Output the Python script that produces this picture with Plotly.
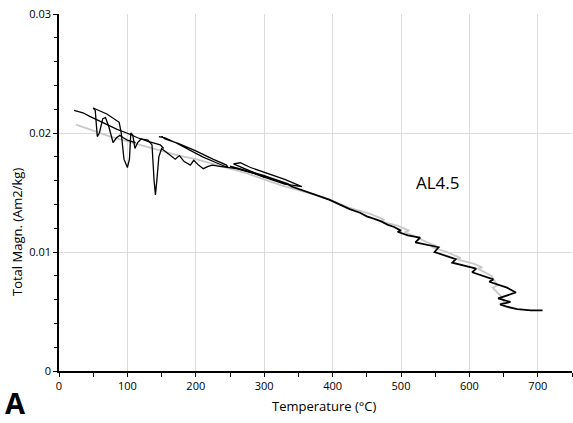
import plotly.graph_objects as go

# ---- data ----
gray_x = [25, 50, 75, 100, 125, 150, 175, 200, 225, 250, 275, 300, 325, 350, 375, 400, 425, 455,
          476, 469, 496, 512, 505, 535, 552, 545, 567, 587, 581, 607, 619, 612, 632, 641, 634, 646, 651, 644, 658]
gray_y = [0.0207, 0.0202, 0.0197, 0.0193, 0.0189, 0.0185, 0.0181, 0.0178, 0.0174, 0.0170, 0.0166, 0.0161,
          0.0156, 0.0152, 0.0148, 0.0143, 0.0137, 0.0132, 0.0127, 0.0126, 0.0122, 0.0118, 0.0117, 0.0109,
          0.0105, 0.0104, 0.0100, 0.0095, 0.0094, 0.0090, 0.0087, 0.0086, 0.0080, 0.0072, 0.0070, 0.0063,
          0.0058, 0.0056, 0.0053]

run1_x = [22, 35, 45, 56, 70, 85, 99, 115, 130, 148, 153, 150]
run1_y = [0.0219, 0.0217, 0.0214, 0.0211, 0.0207, 0.0203, 0.0200, 0.0196, 0.0193, 0.0190, 0.0187, 0.0189]

run2_x = [50, 53, 56, 59, 64, 68, 73, 79, 84, 89, 94, 100, 106, 112]
run2_y = [0.0221, 0.0219, 0.0197, 0.0200, 0.0212, 0.0213, 0.0205, 0.0192, 0.0196, 0.0198, 0.0196,
          0.0194, 0.0193, 0.0192]

run3_x = [50, 70, 88, 91, 95, 100, 103, 105, 108, 111, 115, 120, 130, 136, 139, 141, 143, 146, 150,
          157, 163, 170, 176, 183, 192, 197, 204, 211, 218, 224, 235, 246, 260, 280, 300]
run3_y = [0.0221, 0.0216, 0.0209, 0.0200, 0.0178, 0.0171, 0.0178, 0.0200, 0.0198, 0.0187, 0.0192,
          0.0195, 0.0194, 0.0190, 0.0160, 0.0148, 0.0160, 0.0180, 0.0187, 0.0184, 0.0181, 0.0178,
          0.0181, 0.0176, 0.0173, 0.0177, 0.0173, 0.0170, 0.0172, 0.0173, 0.0172, 0.0171, 0.0170,
          0.0167, 0.0163]

run4_x = [146, 155, 170, 190, 210, 230, 247, 245, 225, 200, 175, 155, 150]
run4_y = [0.0197, 0.0196, 0.0192, 0.0186, 0.0180, 0.0175, 0.0171, 0.0173, 0.0178, 0.0185, 0.0191,
          0.0195, 0.0197]

run5_x = [250, 270, 290, 300, 320, 335, 340, 350, 365, 380, 395, 410, 425, 440, 450, 460, 470, 480,
          490, 500, 495, 510, 528, 521, 540, 555, 549, 565, 580, 575, 595, 610, 604, 620, 635, 629,
          645, 655, 668, 642, 660, 645, 655, 670, 690, 707]
run5_y = [0.0172, 0.0169, 0.0166, 0.0164, 0.0160, 0.0157, 0.0155, 0.0153, 0.0150, 0.0147, 0.0144,
          0.0140, 0.0136, 0.0133, 0.0130, 0.0128, 0.0126, 0.0123, 0.0121, 0.0118, 0.0117, 0.0114,
          0.0112, 0.0108, 0.0106, 0.0104, 0.0100, 0.0097, 0.0094, 0.0091, 0.0088, 0.0086, 0.0083,
          0.0080, 0.0077, 0.0075, 0.0072, 0.0070, 0.0066, 0.0061, 0.0058, 0.0056, 0.0054, 0.0052,
          0.0051, 0.0051]

loop_x = [255, 265, 280, 300, 330, 355, 330, 300, 270, 255]
loop_y = [0.0174, 0.0175, 0.0171, 0.0167, 0.0161, 0.0155, 0.0157, 0.0163, 0.0170, 0.0174]

x_ticks = [0, 100, 200, 300, 400, 500, 600, 700]
y_ticks = [0, 0.01, 0.02, 0.03]
y_ticklabels = ["0", "0.01", "0.02", "0.03"]

sample_label = "AL4.5"
panel_label = "A"
x_title = "Temperature (°C)"
y_title = "Total Magn. (Am2/kg)"

FONT = "Open Sans"
W, H = 573, 423
L, R, T, B = 59, 1, 14, 52
pw, ph = W - L - R, H - T - B


def px_to_paper(px, py):
    return (px - L) / pw, (H - B - py) / ph


fig = go.Figure()
fig.add_trace(go.Scatter(x=gray_x, y=gray_y, mode="lines",
                         line=dict(color="#c8c8c8", width=1.8), hoverinfo="skip"))
for xs, ys, w in [(run1_x, run1_y, 1.3), (run2_x, run2_y, 1.3), (run3_x, run3_y, 1.3),
                  (run4_x, run4_y, 1.3), (loop_x, loop_y, 1.3), (run5_x, run5_y, 1.8)]:
    fig.add_trace(go.Scatter(x=xs, y=ys, mode="lines",
                             line=dict(color="black", width=w), hoverinfo="skip"))

xt, yt = px_to_paper(324, 406)
xa, ya = px_to_paper(3, 424)
xy, yy = px_to_paper(17, 232)

fig.update_layout(
    width=W, height=H,
    margin=dict(l=L, r=R, t=T, b=B),
    paper_bgcolor="white", plot_bgcolor="white",
    showlegend=False,
    font=dict(family=FONT, size=11, color="black"),
    xaxis=dict(range=[0, 750], tickvals=x_ticks, showgrid=True, gridcolor="#dcdcdc", gridwidth=1,
               showline=True, linecolor="black", linewidth=1.5, ticks="outside", ticklen=4,
               tickcolor="black", zeroline=False,
               minor=dict(dtick=50, tick0=0, ticks="outside", ticklen=4, tickcolor="black", showgrid=False)),
    yaxis=dict(range=[0, 0.03], tickvals=y_ticks, ticktext=y_ticklabels, showgrid=True,
               gridcolor="#dcdcdc", gridwidth=1, showline=True, linecolor="black", linewidth=1.5,
               ticks="outside", ticklen=4, tickcolor="black", zeroline=False,
               minor=dict(dtick=0.002, tick0=0, ticks="outside", ticklen=3, tickcolor="black", showgrid=False)),
    annotations=[
        dict(text=sample_label, x=519, y=0.0158, xref="x", yref="y", xanchor="left", yanchor="middle",
             showarrow=False, font=dict(family=FONT, size=17, color="black")),
        dict(text=x_title, x=xt, y=yt, xref="paper", yref="paper", xanchor="center", yanchor="middle",
             showarrow=False, font=dict(family=FONT, size=13, color="black")),
        dict(text="<b>" + panel_label + "</b>", x=xa, y=ya, xref="paper", yref="paper",
             xanchor="left", yanchor="bottom", showarrow=False,
             font=dict(family=FONT, size=29, color="black")),
        dict(text=y_title, x=xy, y=yy, xref="paper", yref="paper", xanchor="center", yanchor="middle",
             textangle=-90, showarrow=False, font=dict(family=FONT, size=13, color="black")),
    ],
)

fig.write_html("out.html")
